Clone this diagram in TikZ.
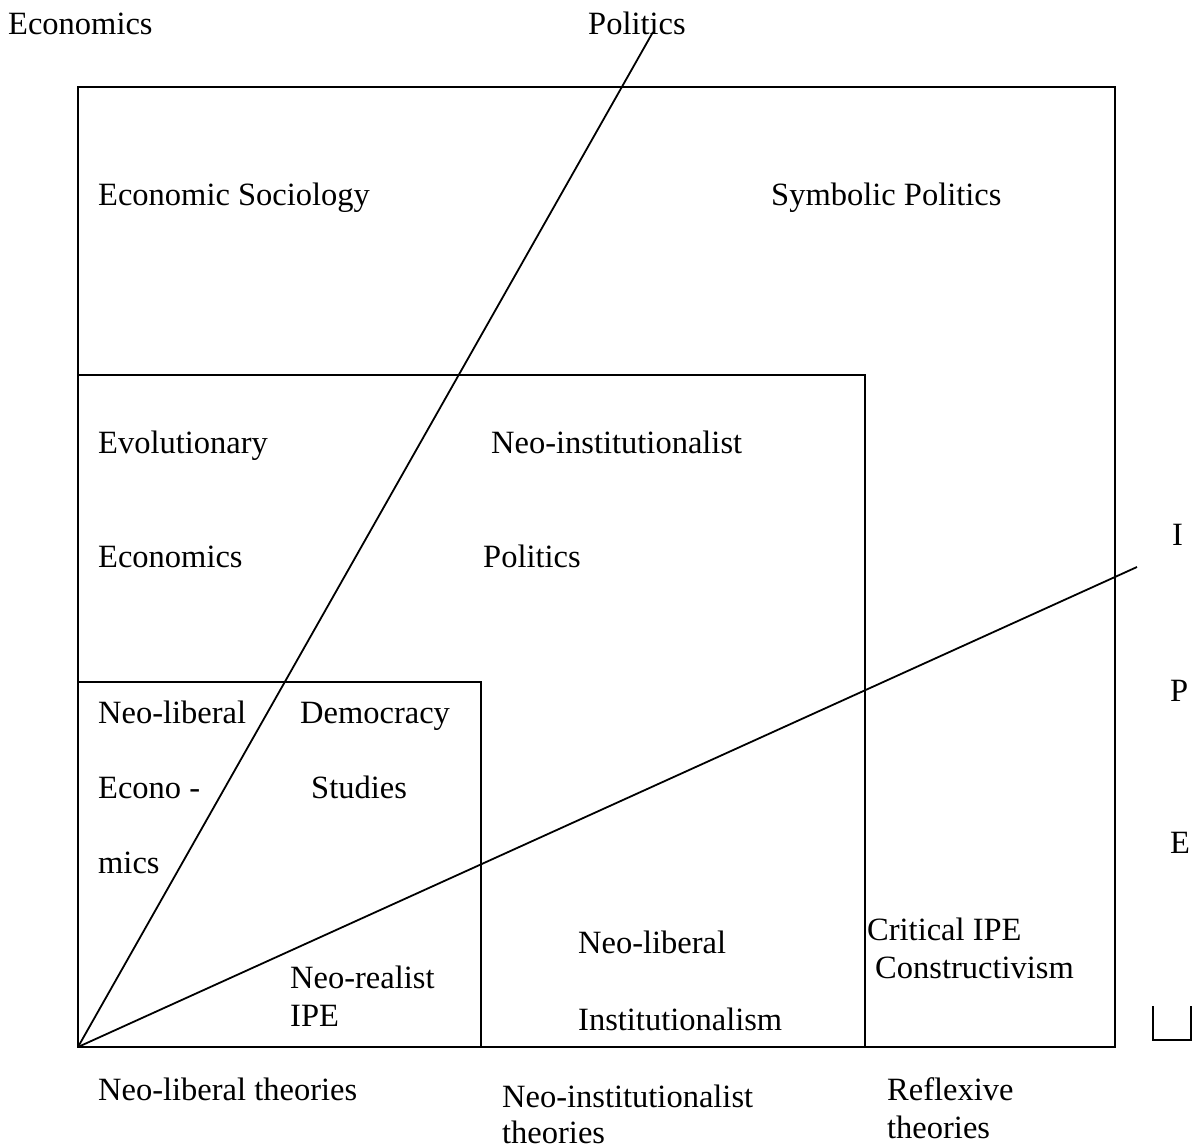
\documentclass[tikz,border=0pt]{standalone}
\usepackage{fontspec}
\setmainfont{Liberation Serif}
\begin{document}
\begin{tikzpicture}[x=1pt,y=-1pt,
  lbl/.style={anchor=base west,inner sep=0pt,font=\fontsize{32.5}{36}\selectfont},
  ln/.style={line width=1.8pt,line cap=butt}]
\useasboundingbox (0,0) rectangle (1192,1148);
% boxes
\draw[ln] (78,87) rectangle (1115,1047);
\draw[ln] (78,375) -- (865,375) -- (865,1047);
\draw[ln] (78,682) -- (481,682) -- (481,1047);
% rays
\coordinate (O) at (78,1047);
\coordinate (P) at (653,32);
\coordinate (Q) at (1137,567);
\draw[ln] (O) -- (P);
\draw[ln] (O) -- (Q);
% bracket
\draw[ln] (1153,1006) -- (1153,1040) -- (1191,1040) -- (1191,1006);
% labels
\node[lbl] (econ) at (8,35) {Economics};
\node[lbl] (pol) at (588,35) {Politics};
\node[lbl] (es) at (98,205) {Economic Sociology};
\node[lbl] (sp) at (771,205) {Symbolic Politics};
\node[lbl] (evo) at (98,453) {Evolutionary};
\node[lbl] (ni) at (491,453) {Neo-institutionalist};
\node[lbl] (evo2) at (98,567) {Economics};
\node[lbl] (ni2) at (483,567) {Politics};
\node[lbl] (nl) at (98,723) {Neo-liberal};
\node[lbl] (dem) at (300,723) {Democracy};
\node[lbl] (nl2) at (98,798) {Econo -};
\node[lbl] (dem2) at (311,798) {Studies};
\node[lbl] (nl3) at (98,873) {mics};
\node[lbl] (nr) at (290,988) {Neo-realist};
\node[lbl] (nr2) at (290,1026) {IPE};
\node[lbl] (nli) at (578,953) {Neo-liberal};
\node[lbl] (nli2) at (578,1030) {Institutionalism};
\node[lbl] (cr) at (867,940) {Critical IPE};
\node[lbl] (cr2) at (875,978) {Constructivism};
\node[lbl] (I) at (1172,545) {I};
\node[lbl] (Pp) at (1170,701) {P};
\node[lbl] (E) at (1170,853) {E};
\node[lbl] (t1) at (98,1100) {Neo-liberal theories};
\node[lbl] (t2) at (502,1107) {Neo-institutionalist};
\node[lbl] (t2b) at (502,1143) {theories};
\node[lbl] (t3) at (887,1100) {Reflexive};
\node[lbl] (t3b) at (887,1138) {theories};
\end{tikzpicture}
\end{document}
